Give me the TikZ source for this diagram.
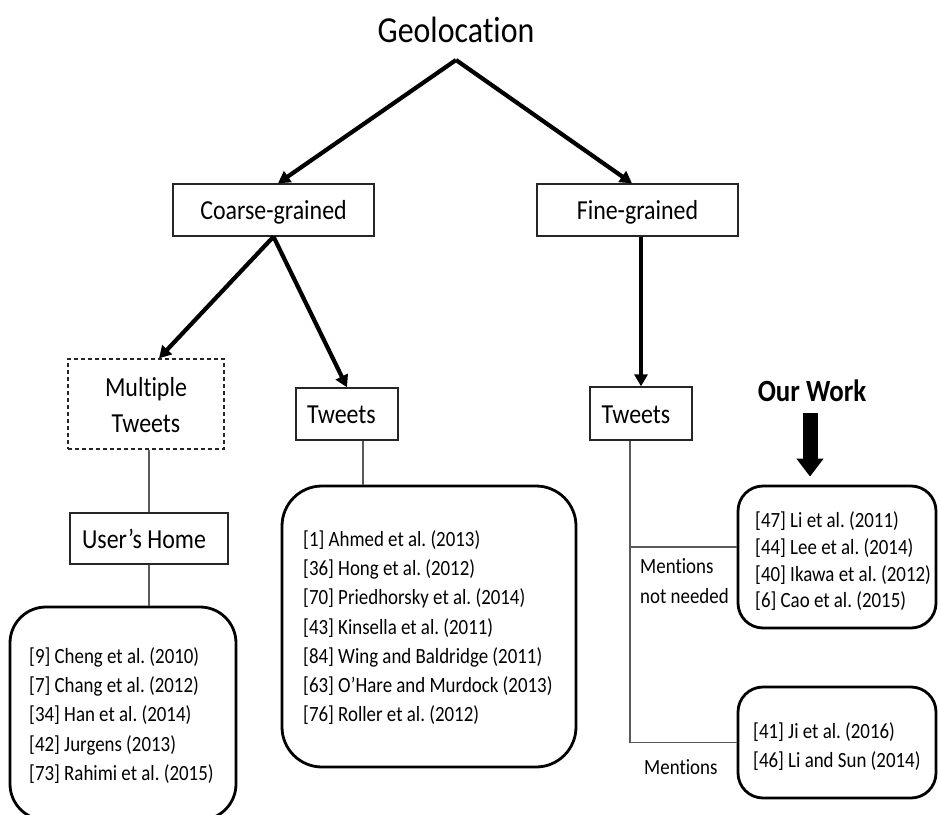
\documentclass[tikz,border=0pt]{standalone}
\usepackage{fontspec}
\setmainfont{Carlito}[FakeStretch=0.87, Ligatures=NoCommon]
\usetikzlibrary{arrows.meta,calc}
\newcommand{\lnstrut}{\rule{0pt}{19bp}}
\frenchspacing
\begin{document}
\begin{tikzpicture}[x=1bp,y=-1bp,
  rectbox/.style={draw=black!85, line width=1.3bp, inner sep=0pt,
    font=\fontsize{27.6}{37}\selectfont, text height=19bp, text depth=0pt},
  dashbox/.style={draw=black!85, line width=1.3bp, dash pattern=on 4bp off 3bp,
    inner sep=0pt, font=\fontsize{27.6}{37}\selectfont},
  roundbox/.style={draw=black, line width=2.8bp, rounded corners=#1, inner sep=0pt},
  reftext/.style={align=left, anchor=north west, inner sep=0pt,
    font=\fontsize{21.8}{29.4}\selectfont},
  thickarrow/.style={draw=black, line width=4.2bp, -{Triangle[length=12bp,width=13bp]}},
  conn/.style={draw=black!65, line width=1.3bp}]
\useasboundingbox (0,0) rectangle (939,815);
\fill[white] (0,0) rectangle (939,815);

% title
\node[anchor=south, inner xsep=0pt, inner ysep=17bp, text depth=0pt,
  font=\fontsize{36.8}{42}\selectfont] (geo) at (456,60) {Geolocation};

% rectangular boxes
\node[rectbox, minimum width=201bp, minimum height=52bp] (coarse) at (273.5,210) {Coarse-grained};
\node[rectbox, minimum width=201bp, minimum height=52bp] (fine) at (637.5,210) {Fine-grained};
\node[dashbox, minimum width=156bp, minimum height=90bp, align=center] (mt) at (146,404)
  {\rule{0pt}{22bp}Multiple\\Tweets\rule[-1bp]{0pt}{1bp}};
\node[rectbox, minimum width=158bp, minimum height=51bp] (uh) at (149,538.5) {User’s Home\hspace*{10bp}};
\node[rectbox, minimum width=102bp, minimum height=52bp] (tw1) at (347,414) {Tweets\hspace*{11bp}};
\node[rectbox, minimum width=102bp, minimum height=53bp] (tw2) at (641,413.5) {Tweets\hspace*{10bp}};

% rounded boxes
\node[roundbox=36bp, minimum width=226bp, minimum height=213bp] (lb) at (123,713.5) {};
\node[roundbox=40bp, minimum width=294bp, minimum height=281bp] (mb) at (429,626.5) {};
\node[roundbox=25bp, minimum width=198bp, minimum height=142bp] (rb1) at (837,557) {};
\node[roundbox=25bp, minimum width=198bp, minimum height=111bp] (rb2) at (837,742.5) {};

% reference lists
\node[reftext] (lbt) at (29,644) {\lnstrut[9] Cheng et al. (2010)\\{}[7] Chang et al. (2012)\\{}[34] Han et al. (2014)\\{}[42] Jurgens (2013)\\{}[73] Rahimi et al. (2015)};
\node[reftext] (mbt) at (303,527) {\lnstrut[1] Ahmed et al. (2013)\\{}[36] Hong et al. (2012)\\{}[70] Priedhorsky et al. (2014)\\{}[43] Kinsella et al. (2011)\\{}[84] Wing and Baldridge (2011)\\{}[63] O’Hare and Murdock (2013)\\{}[76] Roller et al. (2012)};
\node[reftext, font=\fontsize{21.8}{27}\selectfont] (rb1t) at (755,508) {\lnstrut[47] Li et al. (2011)\\{}[44] Lee et al. (2014)\\{}[40] Ikawa et al. (2012)\\{}[6] Cao et al. (2015)};
\node[reftext, font=\fontsize{21.8}{29}\selectfont] (rb2t) at (753,719) {\lnstrut[41] Ji et al. (2016)\\{}[46] Li and Sun (2014)};

% branch labels
\node[reftext, font=\fontsize{21.8}{30}\selectfont] (mnn) at (640,554) {\lnstrut Mentions\\not needed};
\node[anchor=base west, inner sep=0pt, font=\fontsize{21.8}{26}\selectfont] (men) at (644,774) {Mentions};
\node[anchor=base, inner sep=0pt, text depth=0pt, font=\fontsize{31}{36}\selectfont\bfseries] (ow) at (812,401) {Our Work};

% thick arrows
\draw[thickarrow] (geo.south) -- ($(coarse.north)+(4.5,0)$);
\draw[thickarrow] (geo.south) -- ($(fine.north)+(-5.5,0)$);
\draw[thickarrow] (coarse.south) -- ($(mt.north)+(13,0)$);
\draw[thickarrow] (coarse.south) -- (tw1.north);
\draw[thickarrow] (fine.south -| tw2.north) -- (tw2.north);

% thin connectors
\draw[conn] (mt.south -| uh.north) -- (uh.north);
\draw[conn] (uh.south) -- (uh.south |- lb.north);
\coordinate (m1) at ($(tw1.south)+(16,0)$);
\draw[conn] (m1) -- (m1 |- mb.north);
\coordinate (r0) at ($(tw2.south)+(-11,0)$);
\draw[conn] (r0) |- (rb2.west);
\coordinate (r1) at (r0 |- 0,547);
\draw[conn] (r1) -- (r1 -| rb1.west);

% Our Work block arrow
\draw[line width=15bp, -{Triangle[length=18bp,width=26bp]}]
  ($(ow.south)+(-2,12)$) -- ($(rb1.north)+(-27,-8)$);
\end{tikzpicture}
\end{document}
